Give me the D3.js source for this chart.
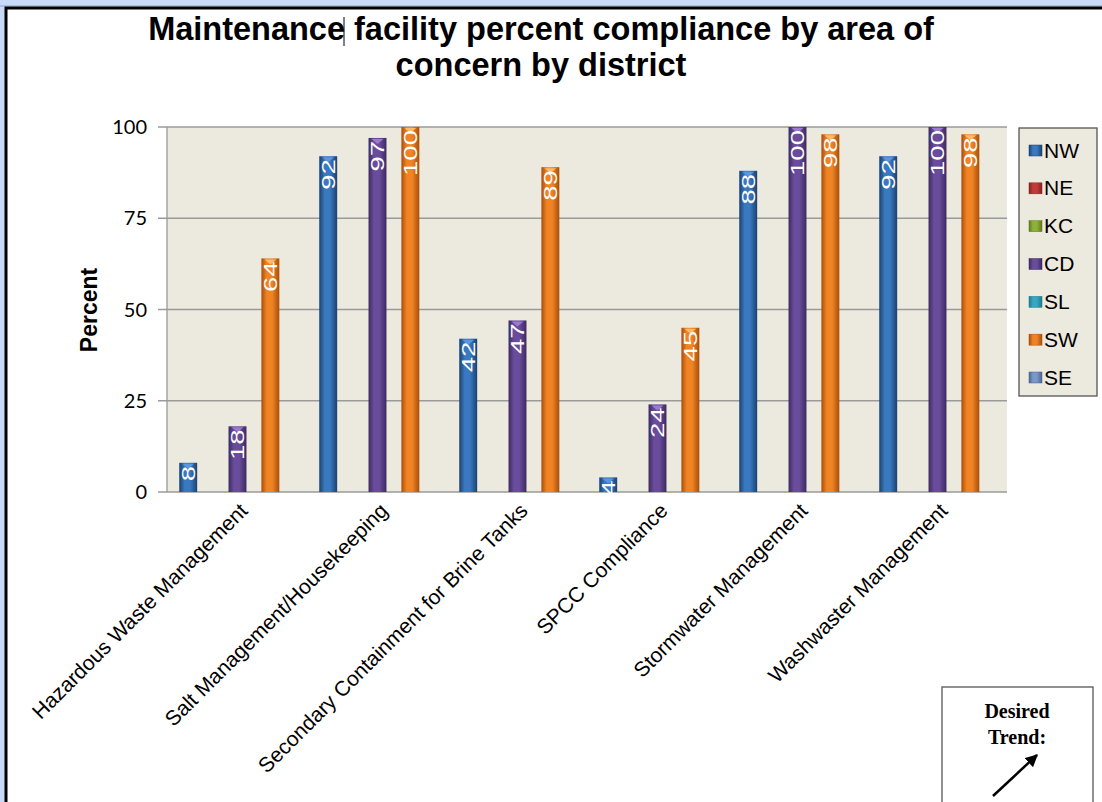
<!DOCTYPE html>
<html><head><meta charset="utf-8">
<script src="https://cdn.jsdelivr.net/npm/d3@7/dist/d3.min.js"></script>
<style>html,body{margin:0;padding:0;background:#c9daf8;overflow:hidden}</style>
</head><body>
<svg id="c" width="1102" height="802"></svg>
<script>
const categories = ["Hazardous Waste Management","Salt Management/Housekeeping","Secondary Containment for Brine Tanks","SPCC Compliance","Stormwater Management","Washwaster Management"];
const series = ["NW","NE","KC","CD","SL","SW","SE"];
const NW = [8, 92, 42, 4, 88, 92];
const NE = [null,null,null,null,null,null];
const KC = [null,null,null,null,null,null];
const CD = [18, 97, 47, 24, 100, 100];
const SL = [null,null,null,null,null,null];
const SW = [64, 100, 89, 45, 98, 98];
const SE = [null,null,null,null,null,null];
const yTicks = [0,25,50,75,100];
const seriesValues = {NW,NE,KC,CD,SL,SW,SE};
const colors = {NW:["#1a426f","#3a78c0","#5d9be0"],NE:["#8a1f1f","#c23b3b","#e06060"],KC:["#5c7a1e","#8fb03a","#b0d060"],
  CD:["#3c2a60","#6a4c9c","#a080d8"],SL:["#1d7a8e","#36a8c0","#70d0e0"],SW:["#a84e0a","#f08424","#ffc070"],SE:["#4a6490","#7a98c8","#a8c0e8"]};

const svg = d3.select("#c");
svg.append("rect").attr("x",0).attr("y",0).attr("width",1102).attr("height",802).attr("fill","#c9daf8");
svg.append("line").attr("x1",0).attr("x2",1102).attr("y1",6).attr("y2",6).attr("stroke","#8fa3c8").attr("stroke-width",1);
svg.append("rect").attr("x",6).attr("y",8).attr("width",1110).attr("height",810).attr("fill","#fff").attr("stroke","#000").attr("stroke-width",3);

const defs = svg.append("defs");
series.forEach(s=>{
  const g = defs.append("linearGradient").attr("id","g"+s).attr("x1","0").attr("x2","1").attr("y1","0").attr("y2","0");
  const c = colors[s];
  g.append("stop").attr("offset","0%").attr("stop-color",c[0]);
  g.append("stop").attr("offset","30%").attr("stop-color",c[1]);
  g.append("stop").attr("offset","60%").attr("stop-color",c[1]);
  g.append("stop").attr("offset","100%").attr("stop-color",c[0]);
});

const L=167, R=1007, T=127, B=492;
const x0 = d3.scaleBand().domain(categories).range([L,R]).padding(0);
const x1 = d3.scaleBand().domain(series).range([12.5, x0.bandwidth()-12.5]).padding(0);
const y = d3.scaleLinear().domain([0,100]).range([B,T]);

svg.append("rect").attr("x",L).attr("y",T).attr("width",R-L).attr("height",B-T).attr("fill","#ece9df");
svg.append("g").selectAll("line").data(yTicks).join("line")
  .attr("x1",L-9).attr("x2",R).attr("y1",d=>y(d)).attr("y2",d=>y(d)).attr("stroke","#9a9a9a").attr("stroke-width",1.3);
svg.append("line").attr("x1",L).attr("x2",L).attr("y1",T).attr("y2",B).attr("stroke","#9a9a9a").attr("stroke-width",1.3);
svg.append("g").selectAll("text").data(yTicks).join("text")
  .attr("x",147).attr("y",d=>y(d)).attr("dy","0.35em").attr("text-anchor","end")
  .attr("font-family","Lato, 'Open Sans', sans-serif").attr("font-size",20).attr("fill","#000").text(d=>d);

svg.append("text").attr("transform","translate(97,310) rotate(-90)").attr("text-anchor","middle")
  .attr("font-family","'Liberation Sans', Arial, sans-serif").attr("font-weight","bold").attr("font-size",23).text("Percent");

// bars
const bars = [];
categories.forEach((c,i)=>series.forEach(s=>{const v=seriesValues[s][i]; if(v!=null) bars.push({c,s,v});}));
const bw = x1.bandwidth();
const gb = svg.append("g");
bars.forEach(d=>{
  const w = bw+1.5, bx = x0(d.c)+x1(d.s)-0.25;
  const top = y(d.v);
  gb.append("rect").attr("x",bx).attr("y",top).attr("width",w).attr("height",B-top).attr("fill","url(#g"+d.s+")");
  gb.append("path").attr("d",`M${bx+3},${top+1}L${bx+w-3},${top+1}L${bx+w/2},${top+6}Z`).attr("fill",colors[d.s][2]).attr("opacity",0.9);
  gb.append("text").attr("transform",`translate(${bx+w/2},${top+3}) rotate(-90) scale(1.45,1)`)
    .attr("text-anchor","end").attr("dy","0.36em").attr("fill","#fff")
    .attr("font-family","'Liberation Sans', Arial, sans-serif").attr("font-size",19).text(d.v);
});

// x labels
svg.append("g").selectAll("text").data(categories).join("text")
  .attr("transform",d=>`translate(${x0(d)+x0.bandwidth()/2+12},${B+20}) rotate(-45)`)
  .attr("text-anchor","end").attr("font-family","'Liberation Sans', Arial, sans-serif").attr("font-size",21).text(d=>d);

// title
const title = svg.append("text").attr("text-anchor","middle").attr("font-family","'Liberation Sans', Arial, sans-serif")
  .attr("font-weight","bold").attr("font-size",32.5).attr("fill","#000");
title.append("tspan").attr("x",541).attr("y",40).text("Maintenance facility percent compliance by area of");
title.append("tspan").attr("x",541).attr("y",76).text("concern by district");
svg.append("line").attr("x1",344).attr("x2",344).attr("y1",17).attr("y2",46).attr("stroke","#000").attr("stroke-width",1);

// legend
const lg = svg.append("g");
lg.append("rect").attr("x",1019).attr("y",128).attr("width",78).attr("height",268).attr("fill","#ece9df").attr("stroke","#555").attr("stroke-width",1.3);
const ly = d3.scalePoint().domain(series).range([150,377]);
series.forEach(s=>{
  lg.append("rect").attr("x",1029).attr("y",ly(s)-5).attr("width",13).attr("height",11).attr("fill","url(#g"+s+")").attr("stroke",colors[s][0]).attr("stroke-width",0.5);
  lg.append("text").attr("x",1044).attr("y",ly(s)).attr("dy","0.36em").attr("font-family","'Liberation Sans', Arial, sans-serif").attr("font-size",21).text(s);
});

// desired trend box
svg.append("rect").attr("x",942).attr("y",687).attr("width",151).attr("height",130).attr("fill","#fff").attr("stroke","#555").attr("stroke-width",1.3);
const dt = svg.append("text").attr("text-anchor","middle").attr("font-family","'Liberation Serif', 'Times New Roman', serif").attr("font-weight","bold").attr("font-size",20);
dt.append("tspan").attr("x",1017).attr("y",718).text("Desired");
dt.append("tspan").attr("x",1017).attr("y",744).text("Trend:");
defs.append("marker").attr("id","arr").attr("viewBox","0 0 10 10").attr("refX",9).attr("refY",5).attr("markerWidth",5).attr("markerHeight",5).attr("orient","auto")
  .append("path").attr("d","M0,0L10,5L0,10Z").attr("fill","#000");
svg.append("line").attr("x1",993).attr("y1",796).attr("x2",1037).attr("y2",755).attr("stroke","#000").attr("stroke-width",2.5).attr("marker-end","url(#arr)");
</script>
</body></html>
